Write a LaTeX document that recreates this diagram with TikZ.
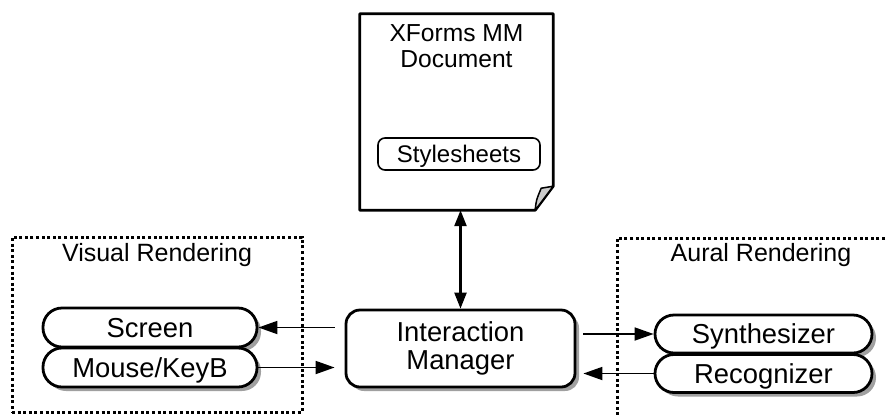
\documentclass[tikz,border=0pt]{standalone}
\usepackage{fontspec}
\setmainfont{Liberation Sans}
\usetikzlibrary{arrows.meta,shadows}
\begin{document}
\begin{tikzpicture}[x=1pt,y=-1pt,
  devfont/.style={font=\fontsize{27.4}{27.4}\selectfont},
  grpfont/.style={font=\fontsize{25}{25}\selectfont},
  shade/.style={drop shadow={shadow xshift=4pt,shadow yshift=-4pt,fill=black!50,opacity=0.75}},
  pill/.style={devfont,draw,line width=2.8pt,fill=white,shade,inner sep=0pt,
    text height=19.6pt,text depth=0pt,
    minimum width=214pt,minimum height=39pt,rounded corners=19pt},
  imbox/.style={devfont,draw,line width=2.8pt,fill=white,shade,inner sep=0pt,align=center,
    minimum width=229pt,minimum height=77pt,rounded corners=14pt},
  dotbox/.style={draw,line width=3pt,dash pattern=on 3pt off 2.6pt,inner sep=0pt},
  arr/.style={line width=1.8pt,-{Triangle[length=19pt,width=13pt]}},
  arrboth/.style={line width=2.4pt,{Triangle[length=16pt,width=12pt]}-{Triangle[length=16pt,width=12pt]}}]
\useasboundingbox (0,0) rectangle (888,416);
\clip (0,0) rectangle (888,416);

% rendering groups
\node[dotbox,minimum width=290pt,minimum height=175pt] (visual) at (157,324.5) {};
\node[dotbox,minimum width=300pt,minimum height=200pt] (aural) at (767,338) {};
\node[grpfont,anchor=base] (vislbl) at (157,261.7) {Visual Rendering};
\node[grpfont,anchor=base] (aurlbl) at (761,261.7) {Aural Rendering};

% document page with folded corner
\node[minimum width=193pt,minimum height=196pt,inner sep=0pt] (doc) at (456.5,112) {};
\coordinate (f1) at ([yshift=24pt]doc.south east);
\coordinate (f2) at ([xshift=-18pt]doc.south east);
\draw[line width=2.8pt,fill=white,line join=round] (doc.north west) -- (doc.north east) -- (f1) -- (f2)
  -- (doc.south west) -- cycle;
\filldraw[line width=1.5pt,fill=black!20,line join=round] (f2)
  .. controls +(1,-10) .. ([xshift=-12pt,yshift=-2pt]f1)
  .. controls +(6,-1) .. (f1) -- cycle;
\node[font=\fontsize{24.6}{25.5}\selectfont,align=center,anchor=north,inner sep=0pt]
  (doctitle) at ([yshift=-11pt]doc.north) {XForms MM\\Document};
\node[font=\fontsize{24}{24}\selectfont,draw,line width=1.6pt,rounded corners=7pt,inner sep=0pt,
  text height=17.2pt,text depth=0pt,
  minimum width=162pt,minimum height=32pt] (style) at (459,154) {Stylesheets};

% interaction manager
\node[imbox] (im) at (460.5,348.5) {Interaction\\Manager};

% devices
\node[pill] (screen) at (150,327.5) {Screen};
\node[pill] (mouse) at (150,367.5) {Mouse/KeyB};
\node[pill,minimum width=217pt,minimum height=38pt] (synth) at (763.5,334) {Synthesizer};
\node[pill,minimum width=217pt,minimum height=38pt] (recog) at (763.5,373.5) {Recognizer};

% connectors
\path (im.west |- screen.east) ++(-10,0) coordinate (s1);
\path (im.west |- mouse.east) ++(-10,0) coordinate (m1);
\path (im.east |- synth.west) ++(7,0) coordinate (y1);
\path (im.east |- recog.west) ++(7,0) coordinate (r1);
\draw[arr] (s1) -- (screen.east);
\draw[arr] (mouse.east) -- (m1);
\draw[arr] (y1) -- (synth.west);
\draw[arr] (recog.west) -- (r1);
\draw[arrboth] (im.north |- doc.south) -- (im.north);
\end{tikzpicture}
\end{document}
